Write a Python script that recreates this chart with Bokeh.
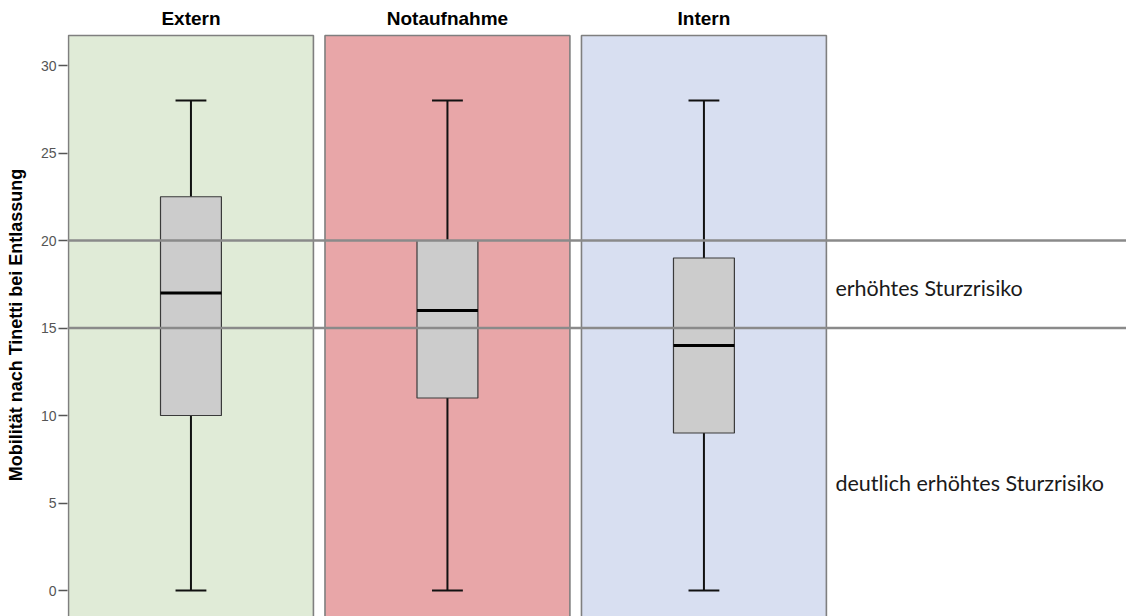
from bokeh.plotting import figure
from bokeh.layouts import column
from bokeh.models import Range1d, FixedTicker, Span, Label, ColumnDataSource
from bokeh.core.properties import value
from bokeh.embed import file_html
from bokeh.resources import INLINE

# Groups and box-plot statistics (Tinetti mobility score at discharge)
groups = ["Extern", "Notaufnahme", "Intern"]
whisker_low = [0, 0, 0]
q1 = [10, 11, 9]
median = [17, 16, 14]
q3 = [22.5, 20, 19]
whisker_high = [28, 28, 28]

# Fall-risk thresholds and their labels
thresholds = [20, 15]
risk_labels = ["erhöhtes Sturzrisiko", "deutlich erhöhtes Sturzrisiko"]
risk_label_y = [17.26, 6.17]

y_ticks = [0, 5, 10, 15, 20, 25, 30]
panel_colors = ["#e0ebd7", "#e8a6a8", "#d8dff1"]

# Layout in data units (one panel per unit)
pitch = 0.998
half_panel = 0.4765
panel_top = 31.714
centers = [i * pitch + half_panel for i in range(len(groups))]
box_w = 0.237
cap_w = 0.12

TOP_H = 33
x_range = Range1d(-1 / 257, -1 / 257 + 1059 / 257)

# strip with the group titles
head = figure(width=1126, height=TOP_H, output_backend="svg", toolbar_location=None,
              x_range=x_range, y_range=Range1d(0, TOP_H),
              x_axis_location=None, y_axis_location=None,
              min_border_left=67, min_border_right=0, min_border_top=0, min_border_bottom=0)
head.outline_line_color = None
head.grid.visible = False
head.text(x=centers, y=[TOP_H - 18] * len(groups), text=groups,
          text_font=value("Liberation Sans"), text_font_style="bold", text_font_size="19px",
          text_align="center", text_baseline="middle", text_color="black")

p = figure(width=1126, height=616 - TOP_H, output_backend="svg", toolbar_location=None,
           x_range=x_range,
           y_range=Range1d(-26 / 17.5, (590 - TOP_H) / 17.5),
           x_axis_location=None, min_border_left=67, min_border_right=0,
           min_border_top=0, min_border_bottom=0)
p.outline_line_color = None
p.grid.visible = False
p.background_fill_color = "white"
p.border_fill_color = "white"

# coloured group panels
panels = ColumnDataSource(dict(
    left=[c - half_panel for c in centers],
    right=[c + half_panel for c in centers],
    top=[panel_top] * len(groups),
    bottom=[-5] * len(groups),
    color=panel_colors,
))
p.quad(left="left", right="right", top="top", bottom="bottom", source=panels,
       fill_color="color", line_color="#7f7f7f", line_width=1.6)

# whiskers
p.segment(x0=centers, y0=q3, x1=centers, y1=whisker_high, line_color="#111111", line_width=2)
p.segment(x0=centers, y0=q1, x1=centers, y1=whisker_low, line_color="#111111", line_width=2)
p.segment(x0=[c - cap_w / 2 for c in centers], y0=whisker_high,
          x1=[c + cap_w / 2 for c in centers], y1=whisker_high, line_color="#111111", line_width=2)
p.segment(x0=[c - cap_w / 2 for c in centers], y0=whisker_low,
          x1=[c + cap_w / 2 for c in centers], y1=whisker_low, line_color="#111111", line_width=2)

# boxes and medians
p.vbar(x=centers, width=box_w, top=q3, bottom=q1, fill_color="#cccccc",
       line_color="#3a3a3a", line_width=1.2)
p.segment(x0=[c - box_w / 2 for c in centers], y0=median,
          x1=[c + box_w / 2 for c in centers], y1=median, line_color="black", line_width=3)

# threshold lines
for t in thresholds:
    p.add_layout(Span(location=t, dimension="width", line_color="#8a8a8a", line_width=2.5))

for txt, yv in zip(risk_labels, risk_label_y):
    p.add_layout(Label(x=2.984, y=yv, text=txt, text_font="Lato", text_font_size="21.5px",
                       text_baseline="middle", text_align="left", text_color="#1a1a1a"))

# y axis
ax = p.yaxis[0]
ax.ticker = FixedTicker(ticks=y_ticks)
ax.axis_line_color = None
ax.major_tick_out = 9
ax.major_tick_in = 0
ax.minor_tick_out = 0
ax.minor_tick_in = 0
ax.major_tick_line_color = "#555555"
ax.major_tick_line_width = 1.5
ax.major_label_standoff = 2
ax.major_label_text_font = "Liberation Sans"
ax.major_label_text_font_size = "14px"
ax.major_label_text_color = "#555555"
ax.axis_label = "Mobilität nach Tinetti bei Entlassung"
ax.axis_label_text_font = "Liberation Sans"
ax.axis_label_text_font_style = "bold"
ax.axis_label_text_font_size = "18px"
ax.axis_label_text_color = "black"
ax.axis_label_standoff = 12

layout = column(head, p, spacing=0)
open("out.html", "w").write(file_html(layout, INLINE))
